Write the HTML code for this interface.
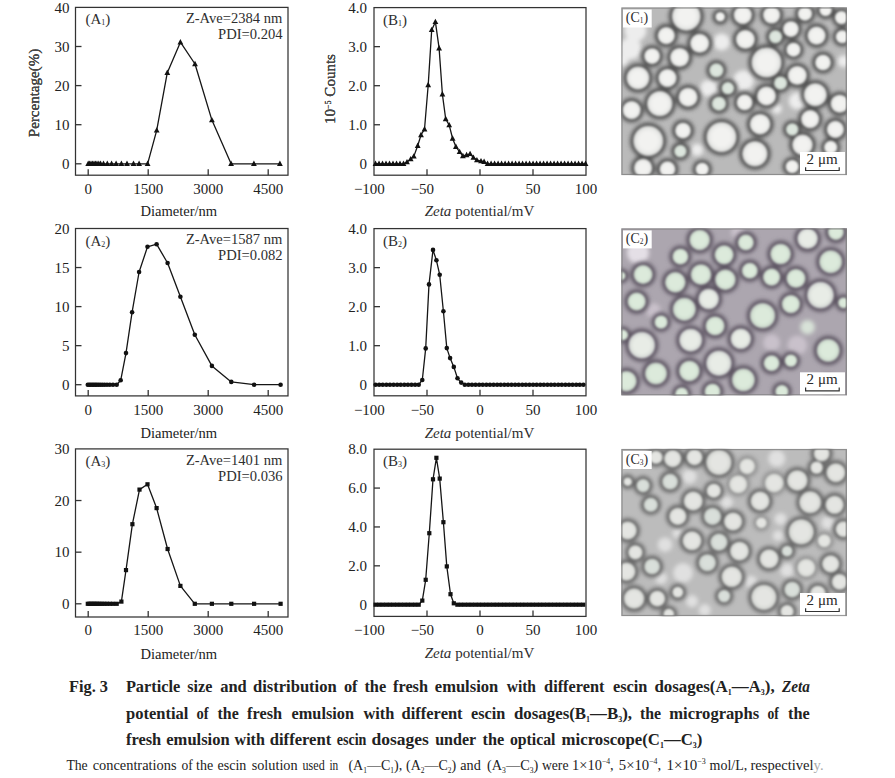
<!DOCTYPE html><html><head><meta charset="utf-8"><style>html,body{margin:0;padding:0;background:#fff;}svg{display:block;font-family:"Liberation Serif", serif;}</style></head><body>
<svg width="895" height="778" viewBox="0 0 895 778">
<rect width="895" height="778" fill="#fff"/>
<rect x="75.5" y="7.4" width="212.5" height="167.80" fill="none" stroke="#333" stroke-width="1.25"/>
<line x1="75.5" y1="163.80" x2="81.5" y2="163.80" stroke="#333" stroke-width="1.3"/>
<text x="69.60" y="169.00" font-size="15" text-anchor="end" fill="#222" >0</text>
<line x1="75.5" y1="124.70" x2="81.5" y2="124.70" stroke="#333" stroke-width="1.3"/>
<text x="69.60" y="129.90" font-size="15" text-anchor="end" fill="#222" >10</text>
<line x1="75.5" y1="85.60" x2="81.5" y2="85.60" stroke="#333" stroke-width="1.3"/>
<text x="69.60" y="90.80" font-size="15" text-anchor="end" fill="#222" >20</text>
<line x1="75.5" y1="46.50" x2="81.5" y2="46.50" stroke="#333" stroke-width="1.3"/>
<text x="69.60" y="51.70" font-size="15" text-anchor="end" fill="#222" >30</text>
<text x="69.60" y="12.60" font-size="15" text-anchor="end" fill="#222" >40</text>
<line x1="88.20" y1="175.2" x2="88.20" y2="169.2" stroke="#333" stroke-width="1.3"/>
<text x="88.20" y="193.80" font-size="15" text-anchor="middle" fill="#222" >0</text>
<line x1="148.20" y1="175.2" x2="148.20" y2="169.2" stroke="#333" stroke-width="1.3"/>
<text x="148.20" y="193.80" font-size="15" text-anchor="middle" fill="#222" >1500</text>
<line x1="208.20" y1="175.2" x2="208.20" y2="169.2" stroke="#333" stroke-width="1.3"/>
<text x="208.20" y="193.80" font-size="15" text-anchor="middle" fill="#222" >3000</text>
<line x1="268.20" y1="175.2" x2="268.20" y2="169.2" stroke="#333" stroke-width="1.3"/>
<text x="268.20" y="193.80" font-size="15" text-anchor="middle" fill="#222" >4500</text>
<text x="178.80" y="215.70" font-size="15" text-anchor="middle" fill="#222" textLength="76.8" lengthAdjust="spacingAndGlyphs" >Diameter/nm</text>
<text transform="translate(39 93) rotate(-90)" x="0" y="0" font-size="15" text-anchor="middle" fill="#484848">Percentage(%)</text>
<path d="M88.20 163.80L89.50 163.80L91.00 163.80L92.50 163.80L94.00 163.80L95.50 163.80L97.00 163.80L98.80 163.80L100.60 163.80L103.50 163.80L107.30 163.80L111.60 163.80L116.10 163.80L121.40 163.80L127.00 163.80L133.50 163.80L139.10 163.80L147.60 163.80L156.70 130.40L167.30 72.70L180.40 42.20L195.00 64.00L211.90 120.10L231.10 163.80L253.90 163.80L279.90 163.80" fill="none" stroke="#151515" stroke-width="1.3" stroke-linejoin="round"/>
<g fill="#111"><path d="M88.20 160.61L91.10 165.98L85.30 165.98Z"/><path d="M89.50 160.61L92.40 165.98L86.60 165.98Z"/><path d="M91.00 160.61L93.90 165.98L88.10 165.98Z"/><path d="M92.50 160.61L95.40 165.98L89.60 165.98Z"/><path d="M94.00 160.61L96.90 165.98L91.10 165.98Z"/><path d="M95.50 160.61L98.40 165.98L92.60 165.98Z"/><path d="M97.00 160.61L99.90 165.98L94.10 165.98Z"/><path d="M98.80 160.61L101.70 165.98L95.90 165.98Z"/><path d="M100.60 160.61L103.50 165.98L97.70 165.98Z"/><path d="M103.50 160.61L106.40 165.98L100.60 165.98Z"/><path d="M107.30 160.61L110.20 165.98L104.40 165.98Z"/><path d="M111.60 160.61L114.50 165.98L108.70 165.98Z"/><path d="M116.10 160.61L119.00 165.98L113.20 165.98Z"/><path d="M121.40 160.61L124.30 165.98L118.50 165.98Z"/><path d="M127.00 160.61L129.90 165.98L124.10 165.98Z"/><path d="M133.50 160.61L136.40 165.98L130.60 165.98Z"/><path d="M139.10 160.61L142.00 165.98L136.20 165.98Z"/><path d="M147.60 160.61L150.50 165.98L144.70 165.98Z"/><path d="M156.70 127.21L159.60 132.58L153.80 132.58Z"/><path d="M167.30 69.51L170.20 74.88L164.40 74.88Z"/><path d="M180.40 39.01L183.30 44.38L177.50 44.38Z"/><path d="M195.00 60.81L197.90 66.17L192.10 66.17Z"/><path d="M211.90 116.91L214.80 122.27L209.00 122.27Z"/><path d="M231.10 160.61L234.00 165.98L228.20 165.98Z"/><path d="M253.90 160.61L256.80 165.98L251.00 165.98Z"/><path d="M279.90 160.61L282.80 165.98L277.00 165.98Z"/></g>
<text x="85.5" y="24.40" font-size="15" fill="#2e2e2e">(A<tspan font-size="8" dy="1">1</tspan><tspan dy="-1">)</tspan></text>
<text x="185.9" y="23.00" font-size="15" fill="#2e2e2e" textLength="96.4" lengthAdjust="spacingAndGlyphs">Z-Ave=2384 nm</text>
<text x="218.1" y="39.30" font-size="15" fill="#2e2e2e" textLength="64.5" lengthAdjust="spacingAndGlyphs">PDI=0.204</text>
<rect x="75.5" y="228.5" width="212.5" height="167.40" fill="none" stroke="#333" stroke-width="1.25"/>
<line x1="75.5" y1="384.70" x2="81.5" y2="384.70" stroke="#333" stroke-width="1.3"/>
<text x="69.60" y="389.90" font-size="15" text-anchor="end" fill="#222" >0</text>
<line x1="75.5" y1="345.65" x2="81.5" y2="345.65" stroke="#333" stroke-width="1.3"/>
<text x="69.60" y="350.85" font-size="15" text-anchor="end" fill="#222" >5</text>
<line x1="75.5" y1="306.60" x2="81.5" y2="306.60" stroke="#333" stroke-width="1.3"/>
<text x="69.60" y="311.80" font-size="15" text-anchor="end" fill="#222" >10</text>
<line x1="75.5" y1="267.55" x2="81.5" y2="267.55" stroke="#333" stroke-width="1.3"/>
<text x="69.60" y="272.75" font-size="15" text-anchor="end" fill="#222" >15</text>
<text x="69.60" y="233.70" font-size="15" text-anchor="end" fill="#222" >20</text>
<line x1="88.20" y1="395.9" x2="88.20" y2="389.9" stroke="#333" stroke-width="1.3"/>
<text x="88.20" y="414.90" font-size="15" text-anchor="middle" fill="#222" >0</text>
<line x1="148.20" y1="395.9" x2="148.20" y2="389.9" stroke="#333" stroke-width="1.3"/>
<text x="148.20" y="414.90" font-size="15" text-anchor="middle" fill="#222" >1500</text>
<line x1="208.20" y1="395.9" x2="208.20" y2="389.9" stroke="#333" stroke-width="1.3"/>
<text x="208.20" y="414.90" font-size="15" text-anchor="middle" fill="#222" >3000</text>
<line x1="268.20" y1="395.9" x2="268.20" y2="389.9" stroke="#333" stroke-width="1.3"/>
<text x="268.20" y="414.90" font-size="15" text-anchor="middle" fill="#222" >4500</text>
<text x="178.80" y="437.70" font-size="15" text-anchor="middle" fill="#222" textLength="76.8" lengthAdjust="spacingAndGlyphs" >Diameter/nm</text>
<text transform="translate(39 93) rotate(-90)" x="0" y="0" font-size="15" text-anchor="middle" fill="#484848">Percentage(%)</text>
<path d="M87.80 384.70L89.30 384.70L90.80 384.70L92.30 384.70L93.80 384.70L95.30 384.70L96.80 384.70L98.50 384.70L100.30 384.70L102.30 384.70L104.50 384.70L107.00 384.70L109.80 384.70L113.00 384.70L116.70 384.70L120.70 380.30L126.00 353.10L132.10 312.20L139.10 272.00L147.50 246.80L156.60 244.20L167.60 263.00L180.40 296.80L194.80 334.70L211.90 365.90L231.30 381.90L254.10 384.70L280.60 384.70" fill="none" stroke="#151515" stroke-width="1.3" stroke-linejoin="round"/>
<g fill="#111"><circle cx="87.80" cy="384.70" r="2.3"/><circle cx="89.30" cy="384.70" r="2.3"/><circle cx="90.80" cy="384.70" r="2.3"/><circle cx="92.30" cy="384.70" r="2.3"/><circle cx="93.80" cy="384.70" r="2.3"/><circle cx="95.30" cy="384.70" r="2.3"/><circle cx="96.80" cy="384.70" r="2.3"/><circle cx="98.50" cy="384.70" r="2.3"/><circle cx="100.30" cy="384.70" r="2.3"/><circle cx="102.30" cy="384.70" r="2.3"/><circle cx="104.50" cy="384.70" r="2.3"/><circle cx="107.00" cy="384.70" r="2.3"/><circle cx="109.80" cy="384.70" r="2.3"/><circle cx="113.00" cy="384.70" r="2.3"/><circle cx="116.70" cy="384.70" r="2.3"/><circle cx="120.70" cy="380.30" r="2.3"/><circle cx="126.00" cy="353.10" r="2.3"/><circle cx="132.10" cy="312.20" r="2.3"/><circle cx="139.10" cy="272.00" r="2.3"/><circle cx="147.50" cy="246.80" r="2.3"/><circle cx="156.60" cy="244.20" r="2.3"/><circle cx="167.60" cy="263.00" r="2.3"/><circle cx="180.40" cy="296.80" r="2.3"/><circle cx="194.80" cy="334.70" r="2.3"/><circle cx="211.90" cy="365.90" r="2.3"/><circle cx="231.30" cy="381.90" r="2.3"/><circle cx="254.10" cy="384.70" r="2.3"/><circle cx="280.60" cy="384.70" r="2.3"/></g>
<text x="85.5" y="245.50" font-size="15" fill="#2e2e2e">(A<tspan font-size="8" dy="1">2</tspan><tspan dy="-1">)</tspan></text>
<text x="185.9" y="244.10" font-size="15" fill="#2e2e2e" textLength="96.4" lengthAdjust="spacingAndGlyphs">Z-Ave=1587 nm</text>
<text x="218.1" y="260.40" font-size="15" fill="#2e2e2e" textLength="64.5" lengthAdjust="spacingAndGlyphs">PDI=0.082</text>
<rect x="75.5" y="448.9" width="212.5" height="168.10" fill="none" stroke="#333" stroke-width="1.25"/>
<line x1="75.5" y1="603.80" x2="81.5" y2="603.80" stroke="#333" stroke-width="1.3"/>
<text x="69.60" y="609.00" font-size="15" text-anchor="end" fill="#222" >0</text>
<line x1="75.5" y1="552.17" x2="81.5" y2="552.17" stroke="#333" stroke-width="1.3"/>
<text x="69.60" y="557.37" font-size="15" text-anchor="end" fill="#222" >10</text>
<line x1="75.5" y1="500.53" x2="81.5" y2="500.53" stroke="#333" stroke-width="1.3"/>
<text x="69.60" y="505.73" font-size="15" text-anchor="end" fill="#222" >20</text>
<text x="69.60" y="454.10" font-size="15" text-anchor="end" fill="#222" >30</text>
<line x1="88.20" y1="617.0" x2="88.20" y2="611.0" stroke="#333" stroke-width="1.3"/>
<text x="88.20" y="635.20" font-size="15" text-anchor="middle" fill="#222" >0</text>
<line x1="148.20" y1="617.0" x2="148.20" y2="611.0" stroke="#333" stroke-width="1.3"/>
<text x="148.20" y="635.20" font-size="15" text-anchor="middle" fill="#222" >1500</text>
<line x1="208.20" y1="617.0" x2="208.20" y2="611.0" stroke="#333" stroke-width="1.3"/>
<text x="208.20" y="635.20" font-size="15" text-anchor="middle" fill="#222" >3000</text>
<line x1="268.20" y1="617.0" x2="268.20" y2="611.0" stroke="#333" stroke-width="1.3"/>
<text x="268.20" y="635.20" font-size="15" text-anchor="middle" fill="#222" >4500</text>
<text x="178.80" y="658.80" font-size="15" text-anchor="middle" fill="#222" textLength="76.8" lengthAdjust="spacingAndGlyphs" >Diameter/nm</text>
<text transform="translate(39 93) rotate(-90)" x="0" y="0" font-size="15" text-anchor="middle" fill="#484848">Percentage(%)</text>
<path d="M87.80 603.80L89.30 603.80L90.80 603.80L92.30 603.80L93.80 603.80L95.30 603.80L96.80 603.80L98.50 603.80L100.30 603.80L102.30 603.80L104.50 603.80L107.00 603.80L109.80 603.80L113.00 603.80L116.70 603.80L121.40 601.60L126.00 570.10L132.40 524.20L139.50 489.60L147.50 484.30L156.60 508.10L167.60 549.00L180.40 585.90L194.80 603.80L211.90 603.80L231.30 603.80L254.10 603.80L280.60 603.80" fill="none" stroke="#151515" stroke-width="1.3" stroke-linejoin="round"/>
<g fill="#111"><rect x="85.70" y="601.70" width="4.2" height="4.2"/><rect x="87.20" y="601.70" width="4.2" height="4.2"/><rect x="88.70" y="601.70" width="4.2" height="4.2"/><rect x="90.20" y="601.70" width="4.2" height="4.2"/><rect x="91.70" y="601.70" width="4.2" height="4.2"/><rect x="93.20" y="601.70" width="4.2" height="4.2"/><rect x="94.70" y="601.70" width="4.2" height="4.2"/><rect x="96.40" y="601.70" width="4.2" height="4.2"/><rect x="98.20" y="601.70" width="4.2" height="4.2"/><rect x="100.20" y="601.70" width="4.2" height="4.2"/><rect x="102.40" y="601.70" width="4.2" height="4.2"/><rect x="104.90" y="601.70" width="4.2" height="4.2"/><rect x="107.70" y="601.70" width="4.2" height="4.2"/><rect x="110.90" y="601.70" width="4.2" height="4.2"/><rect x="114.60" y="601.70" width="4.2" height="4.2"/><rect x="119.30" y="599.50" width="4.2" height="4.2"/><rect x="123.90" y="568.00" width="4.2" height="4.2"/><rect x="130.30" y="522.10" width="4.2" height="4.2"/><rect x="137.40" y="487.50" width="4.2" height="4.2"/><rect x="145.40" y="482.20" width="4.2" height="4.2"/><rect x="154.50" y="506.00" width="4.2" height="4.2"/><rect x="165.50" y="546.90" width="4.2" height="4.2"/><rect x="178.30" y="583.80" width="4.2" height="4.2"/><rect x="192.70" y="601.70" width="4.2" height="4.2"/><rect x="209.80" y="601.70" width="4.2" height="4.2"/><rect x="229.20" y="601.70" width="4.2" height="4.2"/><rect x="252.00" y="601.70" width="4.2" height="4.2"/><rect x="278.50" y="601.70" width="4.2" height="4.2"/></g>
<text x="85.5" y="465.90" font-size="15" fill="#2e2e2e">(A<tspan font-size="8" dy="1">3</tspan><tspan dy="-1">)</tspan></text>
<text x="185.9" y="464.50" font-size="15" fill="#2e2e2e" textLength="96.4" lengthAdjust="spacingAndGlyphs">Z-Ave=1401 nm</text>
<text x="218.1" y="480.80" font-size="15" fill="#2e2e2e" textLength="64.5" lengthAdjust="spacingAndGlyphs">PDI=0.036</text>
<rect x="374.0" y="7.6" width="212.0" height="167.60" fill="none" stroke="#333" stroke-width="1.25"/>
<line x1="374.0" y1="163.80" x2="380.0" y2="163.80" stroke="#333" stroke-width="1.3"/>
<text x="366.90" y="169.00" font-size="15" text-anchor="end" fill="#222" >0</text>
<line x1="374.0" y1="124.75" x2="380.0" y2="124.75" stroke="#333" stroke-width="1.3"/>
<text x="366.90" y="129.95" font-size="15" text-anchor="end" fill="#222" >1.0</text>
<line x1="374.0" y1="85.70" x2="380.0" y2="85.70" stroke="#333" stroke-width="1.3"/>
<text x="366.90" y="90.90" font-size="15" text-anchor="end" fill="#222" >2.0</text>
<line x1="374.0" y1="46.65" x2="380.0" y2="46.65" stroke="#333" stroke-width="1.3"/>
<text x="366.90" y="51.85" font-size="15" text-anchor="end" fill="#222" >3.0</text>
<text x="366.90" y="12.80" font-size="15" text-anchor="end" fill="#222" >4.0</text>
<text x="369.40" y="193.80" font-size="15" text-anchor="middle" fill="#222" >−100</text>
<line x1="427.00" y1="175.2" x2="427.00" y2="169.2" stroke="#333" stroke-width="1.3"/>
<text x="422.40" y="193.80" font-size="15" text-anchor="middle" fill="#222" >−50</text>
<line x1="480.00" y1="175.2" x2="480.00" y2="169.2" stroke="#333" stroke-width="1.3"/>
<text x="480.00" y="193.80" font-size="15" text-anchor="middle" fill="#222" >0</text>
<line x1="533.00" y1="175.2" x2="533.00" y2="169.2" stroke="#333" stroke-width="1.3"/>
<text x="533.00" y="193.80" font-size="15" text-anchor="middle" fill="#222" >50</text>
<text x="586.00" y="193.80" font-size="15" text-anchor="middle" fill="#222" >100</text>
<text x="479.5" y="215.70" font-size="15" text-anchor="middle" fill="#2e2e2e"><tspan font-style="italic">Zeta</tspan> potential/mV</text>
<text transform="translate(335 89) rotate(-90)" x="0" y="0" font-size="15" text-anchor="middle" fill="#484848">10<tspan font-size="8" dy="-4.5">−5</tspan><tspan dy="4.5"> Counts</tspan></text>
<path d="M375.52 163.80L379.02 163.80L382.51 163.80L386.01 163.80L389.51 163.80L393.01 163.80L396.51 163.80L400.00 163.80L403.50 163.80L407.00 162.10L410.70 159.10L413.80 156.40L417.70 145.70L421.00 135.00L424.50 129.20L428.20 85.00L431.70 29.90L435.40 21.90L439.10 48.20L442.40 94.30L445.70 119.00L449.20 125.10L452.60 138.50L455.90 146.70L459.60 151.90L462.90 156.00L466.60 155.00L470.10 153.90L473.40 157.60L476.90 160.10L481.00 161.10L484.10 161.70L487.60 163.80L491.10 163.80L494.60 163.80L498.09 163.80L501.59 163.80L505.09 163.80L508.59 163.80L512.09 163.80L515.58 163.80L519.08 163.80L522.58 163.80L526.08 163.80L529.58 163.80L533.07 163.80L536.57 163.80L540.07 163.80L543.57 163.80L547.07 163.80L550.56 163.80L554.06 163.80L557.56 163.80L561.06 163.80L564.56 163.80L568.05 163.80L571.55 163.80L575.05 163.80L578.55 163.80L582.05 163.80L585.54 163.80" fill="none" stroke="#151515" stroke-width="1.3" stroke-linejoin="round"/>
<g fill="#111"><path d="M375.52 160.61L378.42 165.98L372.62 165.98Z"/><path d="M379.02 160.61L381.92 165.98L376.12 165.98Z"/><path d="M382.51 160.61L385.41 165.98L379.61 165.98Z"/><path d="M386.01 160.61L388.91 165.98L383.11 165.98Z"/><path d="M389.51 160.61L392.41 165.98L386.61 165.98Z"/><path d="M393.01 160.61L395.91 165.98L390.11 165.98Z"/><path d="M396.51 160.61L399.41 165.98L393.61 165.98Z"/><path d="M400.00 160.61L402.90 165.98L397.10 165.98Z"/><path d="M403.50 160.61L406.40 165.98L400.60 165.98Z"/><path d="M407.00 158.91L409.90 164.28L404.10 164.28Z"/><path d="M410.70 155.91L413.60 161.28L407.80 161.28Z"/><path d="M413.80 153.21L416.70 158.58L410.90 158.58Z"/><path d="M417.70 142.51L420.60 147.88L414.80 147.88Z"/><path d="M421.00 131.81L423.90 137.18L418.10 137.18Z"/><path d="M424.50 126.01L427.40 131.38L421.60 131.38Z"/><path d="M428.20 81.81L431.10 87.17L425.30 87.17Z"/><path d="M431.70 26.71L434.60 32.08L428.80 32.08Z"/><path d="M435.40 18.71L438.30 24.08L432.50 24.08Z"/><path d="M439.10 45.01L442.00 50.38L436.20 50.38Z"/><path d="M442.40 91.11L445.30 96.47L439.50 96.47Z"/><path d="M445.70 115.81L448.60 121.17L442.80 121.17Z"/><path d="M449.20 121.91L452.10 127.27L446.30 127.27Z"/><path d="M452.60 135.31L455.50 140.68L449.70 140.68Z"/><path d="M455.90 143.51L458.80 148.88L453.00 148.88Z"/><path d="M459.60 148.71L462.50 154.08L456.70 154.08Z"/><path d="M462.90 152.81L465.80 158.18L460.00 158.18Z"/><path d="M466.60 151.81L469.50 157.18L463.70 157.18Z"/><path d="M470.10 150.71L473.00 156.08L467.20 156.08Z"/><path d="M473.40 154.41L476.30 159.78L470.50 159.78Z"/><path d="M476.90 156.91L479.80 162.28L474.00 162.28Z"/><path d="M481.00 157.91L483.90 163.28L478.10 163.28Z"/><path d="M484.10 158.51L487.00 163.88L481.20 163.88Z"/><path d="M487.60 160.61L490.50 165.98L484.70 165.98Z"/><path d="M491.10 160.61L494.00 165.98L488.20 165.98Z"/><path d="M494.60 160.61L497.50 165.98L491.70 165.98Z"/><path d="M498.09 160.61L500.99 165.98L495.19 165.98Z"/><path d="M501.59 160.61L504.49 165.98L498.69 165.98Z"/><path d="M505.09 160.61L507.99 165.98L502.19 165.98Z"/><path d="M508.59 160.61L511.49 165.98L505.69 165.98Z"/><path d="M512.09 160.61L514.99 165.98L509.19 165.98Z"/><path d="M515.58 160.61L518.48 165.98L512.68 165.98Z"/><path d="M519.08 160.61L521.98 165.98L516.18 165.98Z"/><path d="M522.58 160.61L525.48 165.98L519.68 165.98Z"/><path d="M526.08 160.61L528.98 165.98L523.18 165.98Z"/><path d="M529.58 160.61L532.48 165.98L526.68 165.98Z"/><path d="M533.07 160.61L535.97 165.98L530.17 165.98Z"/><path d="M536.57 160.61L539.47 165.98L533.67 165.98Z"/><path d="M540.07 160.61L542.97 165.98L537.17 165.98Z"/><path d="M543.57 160.61L546.47 165.98L540.67 165.98Z"/><path d="M547.07 160.61L549.97 165.98L544.17 165.98Z"/><path d="M550.56 160.61L553.46 165.98L547.66 165.98Z"/><path d="M554.06 160.61L556.96 165.98L551.16 165.98Z"/><path d="M557.56 160.61L560.46 165.98L554.66 165.98Z"/><path d="M561.06 160.61L563.96 165.98L558.16 165.98Z"/><path d="M564.56 160.61L567.46 165.98L561.66 165.98Z"/><path d="M568.05 160.61L570.95 165.98L565.15 165.98Z"/><path d="M571.55 160.61L574.45 165.98L568.65 165.98Z"/><path d="M575.05 160.61L577.95 165.98L572.15 165.98Z"/><path d="M578.55 160.61L581.45 165.98L575.65 165.98Z"/><path d="M582.05 160.61L584.95 165.98L579.15 165.98Z"/><path d="M585.54 160.61L588.44 165.98L582.64 165.98Z"/></g>
<text x="383" y="24.60" font-size="15" fill="#2e2e2e">(B<tspan font-size="8" dy="1">1</tspan><tspan dy="-1">)</tspan></text>
<rect x="374.0" y="228.6" width="212.0" height="167.20" fill="none" stroke="#333" stroke-width="1.25"/>
<line x1="374.0" y1="384.70" x2="380.0" y2="384.70" stroke="#333" stroke-width="1.3"/>
<text x="366.90" y="389.90" font-size="15" text-anchor="end" fill="#222" >0</text>
<line x1="374.0" y1="345.68" x2="380.0" y2="345.68" stroke="#333" stroke-width="1.3"/>
<text x="366.90" y="350.88" font-size="15" text-anchor="end" fill="#222" >1.0</text>
<line x1="374.0" y1="306.65" x2="380.0" y2="306.65" stroke="#333" stroke-width="1.3"/>
<text x="366.90" y="311.85" font-size="15" text-anchor="end" fill="#222" >2.0</text>
<line x1="374.0" y1="267.62" x2="380.0" y2="267.62" stroke="#333" stroke-width="1.3"/>
<text x="366.90" y="272.82" font-size="15" text-anchor="end" fill="#222" >3.0</text>
<text x="366.90" y="233.80" font-size="15" text-anchor="end" fill="#222" >4.0</text>
<text x="369.40" y="414.80" font-size="15" text-anchor="middle" fill="#222" >−100</text>
<line x1="427.00" y1="395.8" x2="427.00" y2="389.8" stroke="#333" stroke-width="1.3"/>
<text x="422.40" y="414.80" font-size="15" text-anchor="middle" fill="#222" >−50</text>
<line x1="480.00" y1="395.8" x2="480.00" y2="389.8" stroke="#333" stroke-width="1.3"/>
<text x="480.00" y="414.80" font-size="15" text-anchor="middle" fill="#222" >0</text>
<line x1="533.00" y1="395.8" x2="533.00" y2="389.8" stroke="#333" stroke-width="1.3"/>
<text x="533.00" y="414.80" font-size="15" text-anchor="middle" fill="#222" >50</text>
<text x="586.00" y="414.80" font-size="15" text-anchor="middle" fill="#222" >100</text>
<text x="479.5" y="437.60" font-size="15" text-anchor="middle" fill="#2e2e2e"><tspan font-style="italic">Zeta</tspan> potential/mV</text>
<text transform="translate(335 89) rotate(-90)" x="0" y="0" font-size="15" text-anchor="middle" fill="#484848">10<tspan font-size="8" dy="-4.5">−5</tspan><tspan dy="4.5"> Counts</tspan></text>
<path d="M375.58 384.70L379.17 384.70L382.77 384.70L386.36 384.70L389.95 384.70L393.55 384.70L397.14 384.70L400.73 384.70L404.33 384.70L407.92 384.70L411.51 384.70L415.11 384.70L418.70 384.70L422.30 380.00L425.70 348.40L429.00 284.40L433.00 249.90L436.40 260.30L439.70 274.70L443.40 311.20L446.80 348.10L450.10 358.10L453.80 366.90L457.50 378.30L461.20 382.60L464.79 384.70L468.39 384.70L471.98 384.70L475.57 384.70L479.17 384.70L482.76 384.70L486.35 384.70L489.95 384.70L493.54 384.70L497.13 384.70L500.73 384.70L504.32 384.70L507.91 384.70L511.51 384.70L515.10 384.70L518.69 384.70L522.29 384.70L525.88 384.70L529.47 384.70L533.07 384.70L536.66 384.70L540.25 384.70L543.85 384.70L547.44 384.70L551.03 384.70L554.63 384.70L558.22 384.70L561.82 384.70L565.41 384.70L569.00 384.70L572.60 384.70L576.19 384.70L579.78 384.70L583.38 384.70" fill="none" stroke="#151515" stroke-width="1.3" stroke-linejoin="round"/>
<g fill="#111"><circle cx="375.58" cy="384.70" r="2.3"/><circle cx="379.17" cy="384.70" r="2.3"/><circle cx="382.77" cy="384.70" r="2.3"/><circle cx="386.36" cy="384.70" r="2.3"/><circle cx="389.95" cy="384.70" r="2.3"/><circle cx="393.55" cy="384.70" r="2.3"/><circle cx="397.14" cy="384.70" r="2.3"/><circle cx="400.73" cy="384.70" r="2.3"/><circle cx="404.33" cy="384.70" r="2.3"/><circle cx="407.92" cy="384.70" r="2.3"/><circle cx="411.51" cy="384.70" r="2.3"/><circle cx="415.11" cy="384.70" r="2.3"/><circle cx="418.70" cy="384.70" r="2.3"/><circle cx="422.30" cy="380.00" r="2.3"/><circle cx="425.70" cy="348.40" r="2.3"/><circle cx="429.00" cy="284.40" r="2.3"/><circle cx="433.00" cy="249.90" r="2.3"/><circle cx="436.40" cy="260.30" r="2.3"/><circle cx="439.70" cy="274.70" r="2.3"/><circle cx="443.40" cy="311.20" r="2.3"/><circle cx="446.80" cy="348.10" r="2.3"/><circle cx="450.10" cy="358.10" r="2.3"/><circle cx="453.80" cy="366.90" r="2.3"/><circle cx="457.50" cy="378.30" r="2.3"/><circle cx="461.20" cy="382.60" r="2.3"/><circle cx="464.79" cy="384.70" r="2.3"/><circle cx="468.39" cy="384.70" r="2.3"/><circle cx="471.98" cy="384.70" r="2.3"/><circle cx="475.57" cy="384.70" r="2.3"/><circle cx="479.17" cy="384.70" r="2.3"/><circle cx="482.76" cy="384.70" r="2.3"/><circle cx="486.35" cy="384.70" r="2.3"/><circle cx="489.95" cy="384.70" r="2.3"/><circle cx="493.54" cy="384.70" r="2.3"/><circle cx="497.13" cy="384.70" r="2.3"/><circle cx="500.73" cy="384.70" r="2.3"/><circle cx="504.32" cy="384.70" r="2.3"/><circle cx="507.91" cy="384.70" r="2.3"/><circle cx="511.51" cy="384.70" r="2.3"/><circle cx="515.10" cy="384.70" r="2.3"/><circle cx="518.69" cy="384.70" r="2.3"/><circle cx="522.29" cy="384.70" r="2.3"/><circle cx="525.88" cy="384.70" r="2.3"/><circle cx="529.47" cy="384.70" r="2.3"/><circle cx="533.07" cy="384.70" r="2.3"/><circle cx="536.66" cy="384.70" r="2.3"/><circle cx="540.25" cy="384.70" r="2.3"/><circle cx="543.85" cy="384.70" r="2.3"/><circle cx="547.44" cy="384.70" r="2.3"/><circle cx="551.03" cy="384.70" r="2.3"/><circle cx="554.63" cy="384.70" r="2.3"/><circle cx="558.22" cy="384.70" r="2.3"/><circle cx="561.82" cy="384.70" r="2.3"/><circle cx="565.41" cy="384.70" r="2.3"/><circle cx="569.00" cy="384.70" r="2.3"/><circle cx="572.60" cy="384.70" r="2.3"/><circle cx="576.19" cy="384.70" r="2.3"/><circle cx="579.78" cy="384.70" r="2.3"/><circle cx="583.38" cy="384.70" r="2.3"/></g>
<text x="383" y="245.60" font-size="15" fill="#2e2e2e">(B<tspan font-size="8" dy="1">2</tspan><tspan dy="-1">)</tspan></text>
<rect x="374.0" y="449.2" width="212.0" height="167.20" fill="none" stroke="#333" stroke-width="1.25"/>
<line x1="374.0" y1="604.70" x2="380.0" y2="604.70" stroke="#333" stroke-width="1.3"/>
<text x="366.90" y="609.90" font-size="15" text-anchor="end" fill="#222" >0</text>
<line x1="374.0" y1="565.83" x2="380.0" y2="565.83" stroke="#333" stroke-width="1.3"/>
<text x="366.90" y="571.03" font-size="15" text-anchor="end" fill="#222" >2.0</text>
<line x1="374.0" y1="526.95" x2="380.0" y2="526.95" stroke="#333" stroke-width="1.3"/>
<text x="366.90" y="532.15" font-size="15" text-anchor="end" fill="#222" >4.0</text>
<line x1="374.0" y1="488.07" x2="380.0" y2="488.07" stroke="#333" stroke-width="1.3"/>
<text x="366.90" y="493.27" font-size="15" text-anchor="end" fill="#222" >6.0</text>
<text x="366.90" y="454.40" font-size="15" text-anchor="end" fill="#222" >8.0</text>
<text x="369.40" y="634.60" font-size="15" text-anchor="middle" fill="#222" >−100</text>
<line x1="427.00" y1="616.4" x2="427.00" y2="610.4" stroke="#333" stroke-width="1.3"/>
<text x="422.40" y="634.60" font-size="15" text-anchor="middle" fill="#222" >−50</text>
<line x1="480.00" y1="616.4" x2="480.00" y2="610.4" stroke="#333" stroke-width="1.3"/>
<text x="480.00" y="634.60" font-size="15" text-anchor="middle" fill="#222" >0</text>
<line x1="533.00" y1="616.4" x2="533.00" y2="610.4" stroke="#333" stroke-width="1.3"/>
<text x="533.00" y="634.60" font-size="15" text-anchor="middle" fill="#222" >50</text>
<text x="586.00" y="634.60" font-size="15" text-anchor="middle" fill="#222" >100</text>
<text x="479.5" y="658.20" font-size="15" text-anchor="middle" fill="#2e2e2e"><tspan font-style="italic">Zeta</tspan> potential/mV</text>
<text transform="translate(335 89) rotate(-90)" x="0" y="0" font-size="15" text-anchor="middle" fill="#484848">10<tspan font-size="8" dy="-4.5">−5</tspan><tspan dy="4.5"> Counts</tspan></text>
<path d="M375.58 604.70L379.17 604.70L382.77 604.70L386.36 604.70L389.95 604.70L393.55 604.70L397.14 604.70L400.73 604.70L404.33 604.70L407.92 604.70L411.51 604.70L415.11 604.70L418.70 604.70L422.30 600.60L425.70 579.80L429.30 533.20L433.00 479.30L436.40 457.80L439.70 478.60L443.40 522.20L446.80 566.40L450.50 594.20L453.80 603.30L457.39 604.70L460.99 604.70L464.58 604.70L468.17 604.70L471.77 604.70L475.36 604.70L478.95 604.70L482.55 604.70L486.14 604.70L489.73 604.70L493.33 604.70L496.92 604.70L500.51 604.70L504.11 604.70L507.70 604.70L511.29 604.70L514.89 604.70L518.48 604.70L522.07 604.70L525.67 604.70L529.26 604.70L532.85 604.70L536.45 604.70L540.04 604.70L543.63 604.70L547.23 604.70L550.82 604.70L554.42 604.70L558.01 604.70L561.60 604.70L565.20 604.70L568.79 604.70L572.38 604.70L575.98 604.70L579.57 604.70L583.16 604.70" fill="none" stroke="#151515" stroke-width="1.3" stroke-linejoin="round"/>
<g fill="#111"><rect x="373.48" y="602.60" width="4.2" height="4.2"/><rect x="377.07" y="602.60" width="4.2" height="4.2"/><rect x="380.67" y="602.60" width="4.2" height="4.2"/><rect x="384.26" y="602.60" width="4.2" height="4.2"/><rect x="387.85" y="602.60" width="4.2" height="4.2"/><rect x="391.45" y="602.60" width="4.2" height="4.2"/><rect x="395.04" y="602.60" width="4.2" height="4.2"/><rect x="398.63" y="602.60" width="4.2" height="4.2"/><rect x="402.23" y="602.60" width="4.2" height="4.2"/><rect x="405.82" y="602.60" width="4.2" height="4.2"/><rect x="409.41" y="602.60" width="4.2" height="4.2"/><rect x="413.01" y="602.60" width="4.2" height="4.2"/><rect x="416.60" y="602.60" width="4.2" height="4.2"/><rect x="420.20" y="598.50" width="4.2" height="4.2"/><rect x="423.60" y="577.70" width="4.2" height="4.2"/><rect x="427.20" y="531.10" width="4.2" height="4.2"/><rect x="430.90" y="477.20" width="4.2" height="4.2"/><rect x="434.30" y="455.70" width="4.2" height="4.2"/><rect x="437.60" y="476.50" width="4.2" height="4.2"/><rect x="441.30" y="520.10" width="4.2" height="4.2"/><rect x="444.70" y="564.30" width="4.2" height="4.2"/><rect x="448.40" y="592.10" width="4.2" height="4.2"/><rect x="451.70" y="601.20" width="4.2" height="4.2"/><rect x="455.29" y="602.60" width="4.2" height="4.2"/><rect x="458.89" y="602.60" width="4.2" height="4.2"/><rect x="462.48" y="602.60" width="4.2" height="4.2"/><rect x="466.07" y="602.60" width="4.2" height="4.2"/><rect x="469.67" y="602.60" width="4.2" height="4.2"/><rect x="473.26" y="602.60" width="4.2" height="4.2"/><rect x="476.85" y="602.60" width="4.2" height="4.2"/><rect x="480.45" y="602.60" width="4.2" height="4.2"/><rect x="484.04" y="602.60" width="4.2" height="4.2"/><rect x="487.63" y="602.60" width="4.2" height="4.2"/><rect x="491.23" y="602.60" width="4.2" height="4.2"/><rect x="494.82" y="602.60" width="4.2" height="4.2"/><rect x="498.41" y="602.60" width="4.2" height="4.2"/><rect x="502.01" y="602.60" width="4.2" height="4.2"/><rect x="505.60" y="602.60" width="4.2" height="4.2"/><rect x="509.19" y="602.60" width="4.2" height="4.2"/><rect x="512.79" y="602.60" width="4.2" height="4.2"/><rect x="516.38" y="602.60" width="4.2" height="4.2"/><rect x="519.97" y="602.60" width="4.2" height="4.2"/><rect x="523.57" y="602.60" width="4.2" height="4.2"/><rect x="527.16" y="602.60" width="4.2" height="4.2"/><rect x="530.75" y="602.60" width="4.2" height="4.2"/><rect x="534.35" y="602.60" width="4.2" height="4.2"/><rect x="537.94" y="602.60" width="4.2" height="4.2"/><rect x="541.53" y="602.60" width="4.2" height="4.2"/><rect x="545.13" y="602.60" width="4.2" height="4.2"/><rect x="548.72" y="602.60" width="4.2" height="4.2"/><rect x="552.32" y="602.60" width="4.2" height="4.2"/><rect x="555.91" y="602.60" width="4.2" height="4.2"/><rect x="559.50" y="602.60" width="4.2" height="4.2"/><rect x="563.10" y="602.60" width="4.2" height="4.2"/><rect x="566.69" y="602.60" width="4.2" height="4.2"/><rect x="570.28" y="602.60" width="4.2" height="4.2"/><rect x="573.88" y="602.60" width="4.2" height="4.2"/><rect x="577.47" y="602.60" width="4.2" height="4.2"/><rect x="581.06" y="602.60" width="4.2" height="4.2"/></g>
<text x="383" y="466.20" font-size="15" fill="#2e2e2e">(B<tspan font-size="8" dy="1">3</tspan><tspan dy="-1">)</tspan></text>
<defs><filter id="bl1" x="-50%" y="-50%" width="200%" height="200%"><feGaussianBlur stdDeviation="2.2"/></filter><filter id="bl0" x="-50%" y="-50%" width="200%" height="200%"><feGaussianBlur stdDeviation="1.2"/></filter><filter id="bl2" x="-50%" y="-50%" width="200%" height="200%"><feGaussianBlur stdDeviation="2.0"/></filter></defs>
<defs><radialGradient id="gf0" cx="0.5" cy="0.5" r="0.5"><stop offset="0" stop-color="#f2f2f0"/><stop offset="0.6" stop-color="#f2f2f0"/><stop offset="0.88" stop-color="#e2e3e1"/><stop offset="1" stop-color="#a0a0a0"/></radialGradient><radialGradient id="gg0" cx="0.5" cy="0.5" r="0.5"><stop offset="0" stop-color="#dde6de"/><stop offset="0.6" stop-color="#dde6de"/><stop offset="0.88" stop-color="#ccd6cd"/><stop offset="1" stop-color="#a0a0a0"/></radialGradient></defs>
<clipPath id="clipC0"><rect x="621.2" y="7.3" width="225.79999999999995" height="168.0"/></clipPath>
<g clip-path="url(#clipC0)">
<rect x="621.2" y="7.3" width="225.79999999999995" height="168.0" fill="#bababa"/>
<g filter="url(#bl2)"><circle cx="635.4" cy="30.4" r="11.0" fill="#ededed"/><circle cx="721.5" cy="42.0" r="8.5" fill="#ededed"/><circle cx="630.3" cy="48.4" r="11.0" fill="#ededed"/><circle cx="622.6" cy="60.0" r="6.1" fill="#ededed"/><circle cx="743.4" cy="80.5" r="10.3" fill="#ededed"/><circle cx="843.6" cy="61.3" r="6.1" fill="#ededed"/><circle cx="708.7" cy="88.2" r="8.5" fill="#ededed"/><circle cx="797.3" cy="101.1" r="8.5" fill="#ededed"/><circle cx="697.1" cy="149.9" r="6.1" fill="#ededed"/><circle cx="776.8" cy="108.8" r="4.9" fill="#ededed"/></g>
<g fill="#555555" filter="url(#bl1)"><circle cx="686.3" cy="16.3" r="17.6"/><circle cx="720.2" cy="16.8" r="7.9"/><circle cx="742.8" cy="15.0" r="12.3"/><circle cx="771.6" cy="15.0" r="11.8"/><circle cx="805.0" cy="13.7" r="10.3"/><circle cx="825.6" cy="9.9" r="9.4"/><circle cx="841.5" cy="17.6" r="9.8"/><circle cx="666.3" cy="35.6" r="11.8"/><circle cx="699.7" cy="43.3" r="12.7"/><circle cx="745.4" cy="39.4" r="12.7"/><circle cx="775.5" cy="36.8" r="9.8"/><circle cx="790.9" cy="29.1" r="11.1"/><circle cx="816.6" cy="35.6" r="12.3"/><circle cx="842.3" cy="36.8" r="9.8"/><circle cx="652.1" cy="56.1" r="11.1"/><circle cx="679.6" cy="57.4" r="12.7"/><circle cx="766.5" cy="62.5" r="18.3"/><circle cx="793.5" cy="49.7" r="10.3"/><circle cx="823.0" cy="62.5" r="11.1"/><circle cx="716.4" cy="70.3" r="10.3"/><circle cx="638.0" cy="78.0" r="14.7"/><circle cx="667.5" cy="78.0" r="12.3"/><circle cx="797.3" cy="75.4" r="12.7"/><circle cx="727.9" cy="88.2" r="9.4"/><circle cx="780.6" cy="83.1" r="9.8"/><circle cx="815.3" cy="94.7" r="14.7"/><circle cx="659.8" cy="103.7" r="15.9"/><circle cx="688.1" cy="97.2" r="12.7"/><circle cx="718.9" cy="103.7" r="10.3"/><circle cx="744.6" cy="102.4" r="11.1"/><circle cx="766.5" cy="96.0" r="12.7"/><circle cx="839.7" cy="103.7" r="12.3"/><circle cx="631.6" cy="110.1" r="12.3"/><circle cx="683.0" cy="130.6" r="11.1"/><circle cx="721.5" cy="137.1" r="18.3"/><circle cx="760.1" cy="124.2" r="13.5"/><circle cx="810.2" cy="119.1" r="12.3"/><circle cx="835.4" cy="129.4" r="11.8"/><circle cx="648.3" cy="140.9" r="18.3"/><circle cx="792.2" cy="129.4" r="9.4"/><circle cx="680.4" cy="151.2" r="9.4"/><circle cx="754.9" cy="153.8" r="15.9"/><circle cx="802.5" cy="144.8" r="13.5"/><circle cx="830.7" cy="147.4" r="9.8"/><circle cx="643.1" cy="167.9" r="12.3"/><circle cx="667.5" cy="169.2" r="11.1"/><circle cx="702.2" cy="169.2" r="9.8"/><circle cx="792.2" cy="166.6" r="9.8"/></g>
<g fill="#555555" fill-opacity="0.45" filter="url(#bl1)"></g>
<g filter="url(#bl0)"><circle cx="686.3" cy="16.3" r="14.6" fill="url(#gf0)"/><circle cx="720.2" cy="16.8" r="4.9" fill="url(#gf0)"/><circle cx="742.8" cy="15.0" r="9.3" fill="url(#gf0)"/><circle cx="771.6" cy="15.0" r="8.8" fill="url(#gf0)"/><circle cx="805.0" cy="13.7" r="7.3" fill="url(#gf0)"/><circle cx="825.6" cy="9.9" r="6.4" fill="url(#gf0)"/><circle cx="841.5" cy="17.6" r="6.8" fill="url(#gf0)"/><circle cx="666.3" cy="35.6" r="8.8" fill="url(#gf0)"/><circle cx="699.7" cy="43.3" r="9.7" fill="url(#gf0)"/><circle cx="745.4" cy="39.4" r="9.7" fill="url(#gf0)"/><circle cx="775.5" cy="36.8" r="6.8" fill="url(#gg0)"/><circle cx="790.9" cy="29.1" r="8.1" fill="url(#gf0)"/><circle cx="816.6" cy="35.6" r="9.3" fill="url(#gf0)"/><circle cx="842.3" cy="36.8" r="6.8" fill="url(#gf0)"/><circle cx="652.1" cy="56.1" r="8.1" fill="url(#gf0)"/><circle cx="679.6" cy="57.4" r="9.7" fill="url(#gf0)"/><circle cx="766.5" cy="62.5" r="15.3" fill="url(#gf0)"/><circle cx="793.5" cy="49.7" r="7.3" fill="url(#gf0)"/><circle cx="823.0" cy="62.5" r="8.1" fill="url(#gf0)"/><circle cx="716.4" cy="70.3" r="7.3" fill="url(#gg0)"/><circle cx="638.0" cy="78.0" r="11.7" fill="url(#gf0)"/><circle cx="667.5" cy="78.0" r="9.3" fill="url(#gf0)"/><circle cx="797.3" cy="75.4" r="9.7" fill="url(#gf0)"/><circle cx="727.9" cy="88.2" r="6.4" fill="url(#gg0)"/><circle cx="780.6" cy="83.1" r="6.8" fill="url(#gg0)"/><circle cx="815.3" cy="94.7" r="11.7" fill="url(#gf0)"/><circle cx="659.8" cy="103.7" r="12.9" fill="url(#gf0)"/><circle cx="688.1" cy="97.2" r="9.7" fill="url(#gf0)"/><circle cx="718.9" cy="103.7" r="7.3" fill="url(#gg0)"/><circle cx="744.6" cy="102.4" r="8.1" fill="url(#gf0)"/><circle cx="766.5" cy="96.0" r="9.7" fill="url(#gf0)"/><circle cx="839.7" cy="103.7" r="9.3" fill="url(#gf0)"/><circle cx="631.6" cy="110.1" r="9.3" fill="url(#gf0)"/><circle cx="683.0" cy="130.6" r="8.1" fill="url(#gf0)"/><circle cx="721.5" cy="137.1" r="15.3" fill="url(#gf0)"/><circle cx="760.1" cy="124.2" r="10.5" fill="url(#gf0)"/><circle cx="810.2" cy="119.1" r="9.3" fill="url(#gf0)"/><circle cx="835.4" cy="129.4" r="8.8" fill="url(#gf0)"/><circle cx="648.3" cy="140.9" r="15.3" fill="url(#gf0)"/><circle cx="792.2" cy="129.4" r="6.4" fill="url(#gg0)"/><circle cx="680.4" cy="151.2" r="6.4" fill="url(#gg0)"/><circle cx="754.9" cy="153.8" r="12.9" fill="url(#gf0)"/><circle cx="802.5" cy="144.8" r="10.5" fill="url(#gf0)"/><circle cx="830.7" cy="147.4" r="6.8" fill="url(#gf0)"/><circle cx="643.1" cy="167.9" r="9.3" fill="url(#gf0)"/><circle cx="667.5" cy="169.2" r="8.1" fill="url(#gf0)"/><circle cx="702.2" cy="169.2" r="6.8" fill="url(#gf0)"/><circle cx="792.2" cy="166.6" r="6.8" fill="url(#gf0)"/></g>
<rect x="623.0" y="9.5" width="28.7" height="18" fill="#fff"/>
<text x="625.8000000000001" y="22.1" font-size="15" fill="#2e2e2e" textLength="22.3" lengthAdjust="spacingAndGlyphs">(C<tspan font-size="8" dy="1">1</tspan><tspan dy="-1">)</tspan></text>
<rect x="800" y="152.0" width="45" height="22.6" fill="#fff"/>
<text x="806.4" y="163.8" font-size="15" fill="#2a2a2a">2<tspan dx="4">μm</tspan></text>
<path d="M805.6 167.3V170.5H839.2V167.3" fill="none" stroke="#333" stroke-width="1.2"/>
<rect x="621.9000000000001" y="8.0" width="224.39999999999995" height="166.6" fill="none" stroke="#7a7a7a" stroke-opacity="0.7" stroke-width="1.4"/>
</g>
<defs><radialGradient id="gf1" cx="0.5" cy="0.5" r="0.5"><stop offset="0" stop-color="#dceadb"/><stop offset="0.6" stop-color="#dceadb"/><stop offset="0.88" stop-color="#cddbcd"/><stop offset="1" stop-color="#9a95a0"/></radialGradient><radialGradient id="gg1" cx="0.5" cy="0.5" r="0.5"><stop offset="0" stop-color="#e8ece6"/><stop offset="0.6" stop-color="#e8ece6"/><stop offset="0.88" stop-color="#d8dcd8"/><stop offset="1" stop-color="#9a95a0"/></radialGradient></defs>
<clipPath id="clipC1"><rect x="621.2" y="228.2" width="225.79999999999995" height="167.4"/></clipPath>
<g clip-path="url(#clipC1)">
<rect x="621.2" y="228.2" width="225.79999999999995" height="167.4" fill="#aca6af"/>
<g filter="url(#bl2)"><circle cx="738.2" cy="232.1" r="7.3" fill="#c9c1cb"/><circle cx="638.0" cy="252.7" r="11.0" fill="#e4dfe6"/><circle cx="653.4" cy="310.5" r="7.3" fill="#c9c1cb"/><circle cx="807.6" cy="327.2" r="7.3" fill="#d8e2d8"/><circle cx="771.6" cy="342.7" r="8.5" fill="#c9c1cb"/><circle cx="797.3" cy="345.2" r="9.8" fill="#c9c1cb"/></g>
<g fill="#5e5664" filter="url(#bl1)"><circle cx="699.7" cy="239.9" r="13.5"/><circle cx="745.9" cy="242.4" r="11.1"/><circle cx="807.6" cy="238.6" r="13.5"/><circle cx="680.4" cy="256.6" r="11.1"/><circle cx="724.1" cy="254.8" r="12.7"/><circle cx="780.6" cy="254.0" r="13.5"/><circle cx="830.7" cy="261.7" r="14.7"/><circle cx="835.9" cy="232.1" r="11.1"/><circle cx="643.1" cy="274.5" r="12.7"/><circle cx="675.3" cy="282.3" r="13.5"/><circle cx="701.0" cy="274.5" r="13.5"/><circle cx="725.4" cy="279.7" r="13.5"/><circle cx="749.8" cy="270.7" r="11.1"/><circle cx="771.6" cy="277.1" r="11.8"/><circle cx="796.0" cy="278.4" r="12.7"/><circle cx="820.5" cy="295.1" r="16.6"/><circle cx="708.7" cy="299.0" r="13.5"/><circle cx="636.7" cy="301.5" r="12.3"/><circle cx="684.3" cy="309.2" r="14.7"/><circle cx="661.1" cy="322.1" r="9.8"/><circle cx="762.6" cy="315.7" r="15.9"/><circle cx="790.9" cy="304.1" r="12.3"/><circle cx="843.6" cy="302.8" r="8.6"/><circle cx="715.1" cy="325.9" r="12.7"/><circle cx="641.8" cy="345.2" r="16.6"/><circle cx="690.7" cy="340.1" r="14.7"/><circle cx="740.8" cy="338.8" r="13.5"/><circle cx="828.2" cy="350.4" r="14.7"/><circle cx="718.9" cy="363.2" r="15.9"/><circle cx="656.0" cy="373.5" r="14.2"/><circle cx="689.4" cy="370.9" r="13.5"/><circle cx="771.6" cy="363.2" r="11.1"/><circle cx="790.9" cy="360.6" r="9.4"/><circle cx="743.4" cy="379.9" r="14.7"/><circle cx="626.4" cy="381.2" r="13.5"/><circle cx="828.2" cy="383.8" r="9.8"/><circle cx="781.9" cy="391.5" r="9.8"/><circle cx="681.7" cy="394.1" r="9.8"/><circle cx="712.5" cy="391.5" r="11.1"/><circle cx="622.6" cy="334.9" r="8.6"/><circle cx="621.3" cy="275.8" r="7.4"/></g>
<g fill="#5e5664" fill-opacity="0.45" filter="url(#bl1)"></g>
<g filter="url(#bl0)"><circle cx="699.7" cy="239.9" r="10.5" fill="url(#gf1)"/><circle cx="745.9" cy="242.4" r="8.1" fill="url(#gf1)"/><circle cx="807.6" cy="238.6" r="10.5" fill="url(#gg1)"/><circle cx="680.4" cy="256.6" r="8.1" fill="url(#gf1)"/><circle cx="724.1" cy="254.8" r="9.7" fill="url(#gf1)"/><circle cx="780.6" cy="254.0" r="10.5" fill="url(#gf1)"/><circle cx="830.7" cy="261.7" r="11.7" fill="url(#gf1)"/><circle cx="835.9" cy="232.1" r="8.1" fill="url(#gf1)"/><circle cx="643.1" cy="274.5" r="9.7" fill="url(#gf1)"/><circle cx="675.3" cy="282.3" r="10.5" fill="url(#gf1)"/><circle cx="701.0" cy="274.5" r="10.5" fill="url(#gf1)"/><circle cx="725.4" cy="279.7" r="10.5" fill="url(#gf1)"/><circle cx="749.8" cy="270.7" r="8.1" fill="url(#gf1)"/><circle cx="771.6" cy="277.1" r="8.8" fill="url(#gf1)"/><circle cx="796.0" cy="278.4" r="9.7" fill="url(#gf1)"/><circle cx="820.5" cy="295.1" r="13.6" fill="url(#gg1)"/><circle cx="708.7" cy="299.0" r="10.5" fill="url(#gg1)"/><circle cx="636.7" cy="301.5" r="9.3" fill="url(#gf1)"/><circle cx="684.3" cy="309.2" r="11.7" fill="url(#gf1)"/><circle cx="661.1" cy="322.1" r="6.8" fill="url(#gf1)"/><circle cx="762.6" cy="315.7" r="12.9" fill="url(#gf1)"/><circle cx="790.9" cy="304.1" r="9.3" fill="url(#gf1)"/><circle cx="843.6" cy="302.8" r="5.6" fill="url(#gf1)"/><circle cx="715.1" cy="325.9" r="9.7" fill="url(#gf1)"/><circle cx="641.8" cy="345.2" r="13.6" fill="url(#gg1)"/><circle cx="690.7" cy="340.1" r="11.7" fill="url(#gg1)"/><circle cx="740.8" cy="338.8" r="10.5" fill="url(#gg1)"/><circle cx="828.2" cy="350.4" r="11.7" fill="url(#gf1)"/><circle cx="718.9" cy="363.2" r="12.9" fill="url(#gg1)"/><circle cx="656.0" cy="373.5" r="11.2" fill="url(#gf1)"/><circle cx="689.4" cy="370.9" r="10.5" fill="url(#gf1)"/><circle cx="771.6" cy="363.2" r="8.1" fill="url(#gf1)"/><circle cx="790.9" cy="360.6" r="6.4" fill="url(#gf1)"/><circle cx="743.4" cy="379.9" r="11.7" fill="url(#gf1)"/><circle cx="626.4" cy="381.2" r="10.5" fill="url(#gf1)"/><circle cx="828.2" cy="383.8" r="6.8" fill="url(#gf1)"/><circle cx="781.9" cy="391.5" r="6.8" fill="url(#gf1)"/><circle cx="681.7" cy="394.1" r="6.8" fill="url(#gf1)"/><circle cx="712.5" cy="391.5" r="8.1" fill="url(#gf1)"/><circle cx="622.6" cy="334.9" r="5.6" fill="url(#gf1)"/><circle cx="621.3" cy="275.8" r="4.4" fill="url(#gf1)"/></g>
<rect x="623.0" y="230.39999999999998" width="28.7" height="18" fill="#fff"/>
<text x="625.8000000000001" y="243.0" font-size="15" fill="#2e2e2e" textLength="22.3" lengthAdjust="spacingAndGlyphs">(C<tspan font-size="8" dy="1">2</tspan><tspan dy="-1">)</tspan></text>
<rect x="800" y="372.3" width="45" height="22.6" fill="#fff"/>
<text x="806.4" y="384.1" font-size="15" fill="#2a2a2a">2<tspan dx="4">μm</tspan></text>
<path d="M805.6 387.6V390.8H839.2V387.6" fill="none" stroke="#333" stroke-width="1.2"/>
<rect x="621.9000000000001" y="228.89999999999998" width="224.39999999999995" height="166.0" fill="none" stroke="#7a7a7a" stroke-opacity="0.7" stroke-width="1.4"/>
</g>
<defs><radialGradient id="gf2" cx="0.5" cy="0.5" r="0.5"><stop offset="0" stop-color="#e4e5e2"/><stop offset="0.6" stop-color="#e4e5e2"/><stop offset="0.88" stop-color="#d6d8d4"/><stop offset="1" stop-color="#a0a0a0"/></radialGradient><radialGradient id="gg2" cx="0.5" cy="0.5" r="0.5"><stop offset="0" stop-color="#d9dfda"/><stop offset="0.6" stop-color="#d9dfda"/><stop offset="0.88" stop-color="#cad0cb"/><stop offset="1" stop-color="#a0a0a0"/></radialGradient></defs>
<clipPath id="clipC2"><rect x="621.2" y="448.8" width="225.79999999999995" height="167.5"/></clipPath>
<g clip-path="url(#clipC2)">
<rect x="621.2" y="448.8" width="225.79999999999995" height="167.5" fill="#bcbcbc"/>
<g filter="url(#bl2)"><circle cx="776.8" cy="458.6" r="8.5" fill="#e0e0e0"/><circle cx="689.4" cy="476.6" r="7.3" fill="#e0e0e0"/><circle cx="726.7" cy="502.3" r="6.1" fill="#e0e0e0"/><circle cx="780.6" cy="519.0" r="6.1" fill="#e0e0e0"/><circle cx="828.2" cy="522.8" r="6.8" fill="#e0e0e0"/><circle cx="677.8" cy="533.1" r="5.4" fill="#e0e0e0"/><circle cx="665.0" cy="544.7" r="7.3" fill="#e0e0e0"/><circle cx="778.1" cy="535.7" r="5.4" fill="#e0e0e0"/><circle cx="683.0" cy="572.9" r="9.8" fill="#e0e0e0"/><circle cx="787.1" cy="570.4" r="6.8" fill="#e0e0e0"/><circle cx="661.1" cy="578.1" r="6.1" fill="#e0e0e0"/><circle cx="692.0" cy="601.2" r="6.1" fill="#e0e0e0"/><circle cx="751.1" cy="581.9" r="6.1" fill="#e0e0e0"/><circle cx="704.8" cy="610.2" r="6.1" fill="#e0e0e0"/></g>
<g fill="#6a6a6a" filter="url(#bl1)"><circle cx="656.0" cy="457.3" r="9.8"/><circle cx="672.7" cy="458.6" r="11.8"/><circle cx="694.5" cy="457.3" r="11.1"/><circle cx="718.9" cy="462.4" r="15.9"/><circle cx="821.7" cy="453.4" r="11.1"/><circle cx="627.7" cy="481.7" r="7.4"/><circle cx="643.1" cy="485.6" r="9.8"/><circle cx="670.1" cy="481.7" r="11.1"/><circle cx="713.8" cy="490.7" r="10.3"/><circle cx="797.3" cy="480.4" r="13.5"/><circle cx="816.6" cy="467.6" r="9.4"/><circle cx="835.9" cy="472.7" r="12.7"/><circle cx="650.8" cy="504.8" r="10.3"/><circle cx="693.2" cy="501.0" r="12.7"/><circle cx="760.1" cy="501.0" r="12.7"/><circle cx="810.2" cy="502.3" r="14.2"/><circle cx="834.6" cy="504.8" r="12.3"/><circle cx="677.8" cy="516.4" r="11.8"/><circle cx="712.5" cy="516.4" r="11.8"/><circle cx="733.1" cy="521.5" r="12.3"/><circle cx="801.2" cy="531.8" r="15.9"/><circle cx="843.6" cy="529.2" r="11.1"/><circle cx="627.7" cy="530.5" r="12.3"/><circle cx="692.0" cy="540.8" r="12.7"/><circle cx="718.9" cy="542.1" r="11.8"/><circle cx="739.5" cy="551.1" r="12.7"/><circle cx="635.4" cy="552.4" r="10.3"/><circle cx="769.1" cy="558.8" r="12.7"/><circle cx="707.4" cy="562.7" r="11.8"/><circle cx="787.1" cy="551.1" r="8.6"/><circle cx="652.1" cy="566.5" r="11.1"/><circle cx="626.4" cy="571.6" r="12.3"/><circle cx="731.8" cy="576.8" r="13.5"/><circle cx="830.7" cy="563.9" r="11.8"/><circle cx="677.8" cy="592.2" r="8.6"/><circle cx="657.3" cy="598.6" r="11.1"/><circle cx="724.1" cy="596.1" r="9.4"/><circle cx="763.9" cy="597.3" r="15.9"/><circle cx="792.2" cy="589.6" r="11.1"/><circle cx="839.7" cy="581.9" r="11.1"/><circle cx="634.1" cy="598.6" r="13.5"/><circle cx="668.8" cy="614.1" r="8.6"/><circle cx="787.1" cy="611.5" r="9.8"/><circle cx="817.9" cy="593.5" r="11.1"/></g>
<g fill="#6a6a6a" fill-opacity="0.45" filter="url(#bl1)"><circle cx="747.2" cy="466.3" r="11.1"/><circle cx="738.2" cy="484.3" r="12.3"/><circle cx="774.2" cy="483.0" r="12.7"/><circle cx="761.4" cy="522.8" r="8.6"/><circle cx="824.3" cy="540.8" r="9.8"/><circle cx="806.3" cy="567.8" r="12.3"/></g>
<g filter="url(#bl0)"><circle cx="656.0" cy="457.3" r="6.8" fill="url(#gf2)"/><circle cx="672.7" cy="458.6" r="8.8" fill="url(#gf2)"/><circle cx="694.5" cy="457.3" r="8.1" fill="url(#gf2)"/><circle cx="718.9" cy="462.4" r="12.9" fill="url(#gf2)"/><circle cx="747.2" cy="466.3" r="8.1" fill="url(#gf2)"/><circle cx="821.7" cy="453.4" r="8.1" fill="url(#gf2)"/><circle cx="627.7" cy="481.7" r="4.4" fill="url(#gf2)"/><circle cx="643.1" cy="485.6" r="6.8" fill="url(#gg2)"/><circle cx="670.1" cy="481.7" r="8.1" fill="url(#gg2)"/><circle cx="713.8" cy="490.7" r="7.3" fill="url(#gf2)"/><circle cx="738.2" cy="484.3" r="9.3" fill="url(#gf2)"/><circle cx="774.2" cy="483.0" r="9.7" fill="url(#gf2)"/><circle cx="797.3" cy="480.4" r="10.5" fill="url(#gf2)"/><circle cx="816.6" cy="467.6" r="6.4" fill="url(#gf2)"/><circle cx="835.9" cy="472.7" r="9.7" fill="url(#gf2)"/><circle cx="650.8" cy="504.8" r="7.3" fill="url(#gg2)"/><circle cx="693.2" cy="501.0" r="9.7" fill="url(#gf2)"/><circle cx="760.1" cy="501.0" r="9.7" fill="url(#gf2)"/><circle cx="810.2" cy="502.3" r="11.2" fill="url(#gf2)"/><circle cx="834.6" cy="504.8" r="9.3" fill="url(#gf2)"/><circle cx="677.8" cy="516.4" r="8.8" fill="url(#gf2)"/><circle cx="712.5" cy="516.4" r="8.8" fill="url(#gg2)"/><circle cx="733.1" cy="521.5" r="9.3" fill="url(#gf2)"/><circle cx="761.4" cy="522.8" r="5.6" fill="url(#gf2)"/><circle cx="801.2" cy="531.8" r="12.9" fill="url(#gf2)"/><circle cx="843.6" cy="529.2" r="8.1" fill="url(#gf2)"/><circle cx="627.7" cy="530.5" r="9.3" fill="url(#gf2)"/><circle cx="692.0" cy="540.8" r="9.7" fill="url(#gf2)"/><circle cx="718.9" cy="542.1" r="8.8" fill="url(#gg2)"/><circle cx="739.5" cy="551.1" r="9.7" fill="url(#gf2)"/><circle cx="635.4" cy="552.4" r="7.3" fill="url(#gf2)"/><circle cx="824.3" cy="540.8" r="6.8" fill="url(#gf2)"/><circle cx="769.1" cy="558.8" r="9.7" fill="url(#gf2)"/><circle cx="707.4" cy="562.7" r="8.8" fill="url(#gg2)"/><circle cx="787.1" cy="551.1" r="5.6" fill="url(#gg2)"/><circle cx="652.1" cy="566.5" r="8.1" fill="url(#gg2)"/><circle cx="626.4" cy="571.6" r="9.3" fill="url(#gf2)"/><circle cx="731.8" cy="576.8" r="10.5" fill="url(#gf2)"/><circle cx="806.3" cy="567.8" r="9.3" fill="url(#gf2)"/><circle cx="830.7" cy="563.9" r="8.8" fill="url(#gf2)"/><circle cx="677.8" cy="592.2" r="5.6" fill="url(#gf2)"/><circle cx="657.3" cy="598.6" r="8.1" fill="url(#gf2)"/><circle cx="724.1" cy="596.1" r="6.4" fill="url(#gg2)"/><circle cx="763.9" cy="597.3" r="12.9" fill="url(#gf2)"/><circle cx="792.2" cy="589.6" r="8.1" fill="url(#gg2)"/><circle cx="839.7" cy="581.9" r="8.1" fill="url(#gf2)"/><circle cx="634.1" cy="598.6" r="10.5" fill="url(#gf2)"/><circle cx="668.8" cy="614.1" r="5.6" fill="url(#gf2)"/><circle cx="787.1" cy="611.5" r="6.8" fill="url(#gf2)"/><circle cx="817.9" cy="593.5" r="8.1" fill="url(#gf2)"/></g>
<rect x="623.0" y="451.0" width="28.7" height="18" fill="#fff"/>
<text x="625.8000000000001" y="463.6" font-size="15" fill="#2e2e2e" textLength="22.3" lengthAdjust="spacingAndGlyphs">(C<tspan font-size="8" dy="1">3</tspan><tspan dy="-1">)</tspan></text>
<rect x="800" y="593.0" width="45" height="22.6" fill="#fff"/>
<text x="806.4" y="604.8" font-size="15" fill="#2a2a2a">2<tspan dx="4">μm</tspan></text>
<path d="M805.6 608.3V611.5H839.2V608.3" fill="none" stroke="#333" stroke-width="1.2"/>
<rect x="621.9000000000001" y="449.5" width="224.39999999999995" height="166.1" fill="none" stroke="#7a7a7a" stroke-opacity="0.7" stroke-width="1.4"/>
</g>
<text x="69" y="692.3" font-weight="bold" font-size="17" fill="#222" textLength="38.98" lengthAdjust="spacingAndGlyphs">Fig. 3</text>
<text x="125.9" y="692.3" font-weight="bold" font-size="17" fill="#222" textLength="54.30" lengthAdjust="spacingAndGlyphs">Particle</text>
<text x="187.3" y="692.3" font-weight="bold" font-size="17" fill="#222" textLength="25.00" lengthAdjust="spacingAndGlyphs">size</text>
<text x="220.2" y="692.3" font-weight="bold" font-size="17" fill="#222" textLength="26.60" lengthAdjust="spacingAndGlyphs">and</text>
<text x="253" y="692.3" font-weight="bold" font-size="17" fill="#222" textLength="83.70" lengthAdjust="spacingAndGlyphs">distribution</text>
<text x="343.9" y="692.3" font-weight="bold" font-size="17" fill="#222" textLength="13.60" lengthAdjust="spacingAndGlyphs">of</text>
<text x="364.4" y="692.3" font-weight="bold" font-size="17" fill="#222" textLength="21.77" lengthAdjust="spacingAndGlyphs">the</text>
<text x="393.0" y="692.3" font-weight="bold" font-size="17" fill="#222" textLength="35.05" lengthAdjust="spacingAndGlyphs">fresh</text>
<text x="434.8" y="692.3" font-weight="bold" font-size="17" fill="#222" textLength="63.40" lengthAdjust="spacingAndGlyphs">emulsion</text>
<text x="506.7" y="692.3" font-weight="bold" font-size="17" fill="#222" textLength="29.30" lengthAdjust="spacingAndGlyphs">with</text>
<text x="544.1" y="692.3" font-weight="bold" font-size="17" fill="#222" textLength="60.30" lengthAdjust="spacingAndGlyphs">different</text>
<text x="612.9" y="692.3" font-weight="bold" font-size="17" fill="#222" textLength="34.45" lengthAdjust="spacingAndGlyphs">escin</text>
<text x="654.4" y="692.3" font-weight="bold" font-size="17" fill="#222" textLength="120.30" lengthAdjust="spacingAndGlyphs">dosages(A<tspan font-size="8" dy="3">1</tspan><tspan dy="-3">—A</tspan><tspan font-size="8" dy="3">3</tspan><tspan dy="-3">),</tspan></text>
<text x="781.9" y="692.3" font-weight="bold" font-size="17" fill="#222" textLength="27.90" lengthAdjust="spacingAndGlyphs"><tspan font-style="italic">Zeta</tspan></text>
<text x="126" y="718.9" font-weight="bold" font-size="17" fill="#222" textLength="62.40" lengthAdjust="spacingAndGlyphs">potential</text>
<text x="196.4" y="718.9" font-weight="bold" font-size="17" fill="#222" textLength="12.10" lengthAdjust="spacingAndGlyphs">of</text>
<text x="217.5" y="718.9" font-weight="bold" font-size="17" fill="#222" textLength="21.20" lengthAdjust="spacingAndGlyphs">the</text>
<text x="247.1" y="718.9" font-weight="bold" font-size="17" fill="#222" textLength="34.90" lengthAdjust="spacingAndGlyphs">fresh</text>
<text x="291.6" y="718.9" font-weight="bold" font-size="17" fill="#222" textLength="62.40" lengthAdjust="spacingAndGlyphs">emulsion</text>
<text x="363.4" y="718.9" font-weight="bold" font-size="17" fill="#222" textLength="30.84" lengthAdjust="spacingAndGlyphs">with</text>
<text x="401.6" y="718.9" font-weight="bold" font-size="17" fill="#222" textLength="61.00" lengthAdjust="spacingAndGlyphs">different</text>
<text x="471.1" y="718.9" font-weight="bold" font-size="17" fill="#222" textLength="34.20" lengthAdjust="spacingAndGlyphs">escin</text>
<text x="513.9" y="718.9" font-weight="bold" font-size="17" fill="#222" textLength="118.10" lengthAdjust="spacingAndGlyphs">dosages(B<tspan font-size="8" dy="3">1</tspan><tspan dy="-3">—B</tspan><tspan font-size="8" dy="3">3</tspan><tspan dy="-3">),</tspan></text>
<text x="639.9" y="718.9" font-weight="bold" font-size="17" fill="#222" textLength="21.10" lengthAdjust="spacingAndGlyphs">the</text>
<text x="669.3" y="718.9" font-weight="bold" font-size="17" fill="#222" textLength="89.90" lengthAdjust="spacingAndGlyphs">micrographs</text>
<text x="767.5" y="718.9" font-weight="bold" font-size="17" fill="#222" textLength="11.30" lengthAdjust="spacingAndGlyphs">of</text>
<text x="788.1" y="718.9" font-weight="bold" font-size="17" fill="#222" textLength="21.70" lengthAdjust="spacingAndGlyphs">the</text>
<text x="126" y="744.9" font-weight="bold" font-size="17" fill="#222" textLength="35.20" lengthAdjust="spacingAndGlyphs">fresh</text>
<text x="166.3" y="744.9" font-weight="bold" font-size="17" fill="#222" textLength="63.30" lengthAdjust="spacingAndGlyphs">emulsion</text>
<text x="234.6" y="744.9" font-weight="bold" font-size="17" fill="#222" textLength="30.20" lengthAdjust="spacingAndGlyphs">with</text>
<text x="269.8" y="744.9" font-weight="bold" font-size="17" fill="#222" textLength="61.40" lengthAdjust="spacingAndGlyphs">different</text>
<text x="336.7" y="744.9" font-weight="bold" font-size="17" fill="#222" textLength="29.70" lengthAdjust="spacingAndGlyphs">escin</text>
<text x="371.5" y="744.9" font-weight="bold" font-size="17" fill="#222" textLength="57.30" lengthAdjust="spacingAndGlyphs">dosages</text>
<text x="435.2" y="744.9" font-weight="bold" font-size="17" fill="#222" textLength="40.90" lengthAdjust="spacingAndGlyphs">under</text>
<text x="482.5" y="744.9" font-weight="bold" font-size="17" fill="#222" textLength="21.70" lengthAdjust="spacingAndGlyphs">the</text>
<text x="509.9" y="744.9" font-weight="bold" font-size="17" fill="#222" textLength="45.60" lengthAdjust="spacingAndGlyphs">optical</text>
<text x="561.6" y="744.9" font-weight="bold" font-size="17" fill="#222" textLength="140.70" lengthAdjust="spacingAndGlyphs">microscope(C<tspan font-size="8" dy="3">1</tspan><tspan dy="-3">—C</tspan><tspan font-size="8" dy="3">3</tspan><tspan dy="-3">)</tspan></text>
<text x="66.4" y="769.6" font-size="15" fill="#222" textLength="21.30" lengthAdjust="spacingAndGlyphs">The</text>
<text x="92.7" y="769.6" font-size="15" fill="#222" textLength="83.80" lengthAdjust="spacingAndGlyphs">concentrations</text>
<text x="181.5" y="769.6" font-size="15" fill="#222" textLength="11.25" lengthAdjust="spacingAndGlyphs">of</text>
<text x="196" y="769.6" font-size="15" fill="#222" textLength="17.10" lengthAdjust="spacingAndGlyphs">the</text>
<text x="217.5" y="769.6" font-size="15" fill="#222" textLength="28.80" lengthAdjust="spacingAndGlyphs">escin</text>
<text x="251.7" y="769.6" font-size="15" fill="#222" textLength="45.90" lengthAdjust="spacingAndGlyphs">solution</text>
<text x="302.6" y="769.6" font-size="15" fill="#222" textLength="22.10" lengthAdjust="spacingAndGlyphs">used</text>
<text x="329.4" y="769.6" font-size="15" fill="#222" textLength="8.80" lengthAdjust="spacingAndGlyphs">in</text>
<text x="348.4" y="769.6" font-size="15" fill="#222" textLength="53.90" lengthAdjust="spacingAndGlyphs">(A<tspan font-size="8" dy="3">1</tspan><tspan dy="-3">—C</tspan><tspan font-size="8" dy="3">1</tspan><tspan dy="-3">),</tspan></text>
<text x="406.0" y="769.6" font-size="15" fill="#222" textLength="50.20" lengthAdjust="spacingAndGlyphs">(A<tspan font-size="8" dy="3">2</tspan><tspan dy="-3">—C</tspan><tspan font-size="8" dy="3">2</tspan><tspan dy="-3">)</tspan></text>
<text x="460.3" y="769.6" font-size="15" fill="#222" textLength="20.50" lengthAdjust="spacingAndGlyphs">and</text>
<text x="487.0" y="769.6" font-size="15" fill="#222" textLength="51.30" lengthAdjust="spacingAndGlyphs">(A<tspan font-size="8" dy="3">3</tspan><tspan dy="-3">—C</tspan><tspan font-size="8" dy="3">3</tspan><tspan dy="-3">)</tspan></text>
<text x="541.9" y="769.6" font-size="15" fill="#222" textLength="26.60" lengthAdjust="spacingAndGlyphs">were</text>
<text x="572.1" y="769.6" font-size="15" fill="#222" textLength="41.60" lengthAdjust="spacingAndGlyphs">1×10<tspan font-size="8" dy="-6">−4</tspan><tspan dy="6">,</tspan></text>
<text x="618.8" y="769.6" font-size="15" fill="#222" textLength="42.40" lengthAdjust="spacingAndGlyphs">5×10<tspan font-size="8" dy="-6">−4</tspan><tspan dy="6">,</tspan></text>
<text x="666.5" y="769.6" font-size="15" fill="#222" textLength="39.30" lengthAdjust="spacingAndGlyphs">1×10<tspan font-size="8" dy="-6">−3</tspan></text>
<text x="709.6" y="769.6" font-size="15" fill="#222" textLength="37.60" lengthAdjust="spacingAndGlyphs">mol/L,</text>
<text x="750.4" y="769.6" font-size="15" fill="#222" textLength="73.20" lengthAdjust="spacingAndGlyphs">respectivel<tspan fill="#aaa">y.</tspan></text>
</svg></body></html>
